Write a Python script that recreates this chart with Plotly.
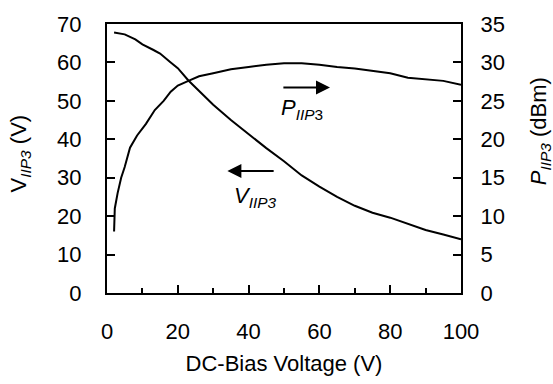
import plotly.graph_objects as go

# V_IIP3 (left axis, V)
v_x = [2, 3, 4, 5, 8, 10, 13, 15, 18, 20, 23, 26, 30, 35, 40, 45, 50, 55, 60, 65, 70, 75, 80, 85, 90, 95, 100]
v_y = [67.8, 67.6, 67.5, 67.3, 66.0, 64.7, 63.3, 62.3, 60.0, 58.5, 55.3, 52.5, 49.0, 45.0, 41.3, 37.7, 34.3, 30.6, 27.7, 25.0, 22.7, 20.9, 19.6, 18.0, 16.4, 15.2, 14.0]

# P_IIP3 (right axis, dBm)
p_x = [2, 2.2, 3, 4, 5, 6.5, 8.5, 11, 13.5, 16, 18, 20, 23, 26, 30, 35, 40, 45, 50, 55, 60, 65, 70, 75, 80, 85, 90, 95, 100]
p_y = [8.0, 11.0, 13.0, 15.0, 16.4, 18.9, 20.5, 22.0, 23.8, 25.0, 26.2, 27.0, 27.6, 28.2, 28.6, 29.1, 29.4, 29.7, 29.9, 29.9, 29.7, 29.4, 29.2, 28.9, 28.6, 28.0, 27.8, 27.6, 27.1]

x_ticks = [0, 20, 40, 60, 80, 100]
left_ticks = [0, 10, 20, 30, 40, 50, 60, 70]
right_ticks = [0, 5, 10, 15, 20, 25, 30, 35]

FONT = "Liberation Sans, Arial, sans-serif"
FS = 22

fig = go.Figure()
fig.add_trace(go.Scatter(x=v_x, y=v_y, mode="lines", line=dict(color="black", width=2),
                         showlegend=False, yaxis="y"))
fig.add_trace(go.Scatter(x=p_x, y=p_y, mode="lines", line=dict(color="black", width=2),
                         showlegend=False, yaxis="y2"))

fig.update_layout(
    width=553, height=384,
    margin=dict(l=107, r=92, t=14, b=90),
    paper_bgcolor="white", plot_bgcolor="white",
    font=dict(family=FONT, size=FS, color="black"),
    xaxis=dict(range=[0, 100], tickvals=x_ticks, ticks="inside", ticklen=8, tickwidth=1.5,
               tickcolor="black", showline=True, linecolor="black", linewidth=2, mirror=True,
               showgrid=False, zeroline=False, ticklabelstandoff=18,
               minor=dict(tickvals=[10, 30, 50, 70, 90], ticks="inside", ticklen=5, tickwidth=1.5, tickcolor="black"),
               title=dict(text="DC-Bias Voltage (V)", font=dict(size=FS), standoff=12)),
    yaxis=dict(range=[0, 70], tickvals=left_ticks, ticks="inside", ticklen=8, tickwidth=1.5,
               tickcolor="black", showline=True, linecolor="black", linewidth=2,
               showgrid=False, zeroline=False, ticklabelstandoff=19),
    yaxis2=dict(range=[0, 35], tickvals=right_ticks, ticks="inside", ticklen=8, tickwidth=1.5,
                tickcolor="black", showline=True, linecolor="black", linewidth=2,
                showgrid=False, zeroline=False, overlaying="y", side="right", ticklabelstandoff=13),
)

annotations = [
    # axis titles
    dict(text="V<sub><i>IIP3</i></sub> (V)", xref="paper", yref="paper", x=-0.245, y=0.52,
         textangle=-90, showarrow=False, font=dict(size=FS), xanchor="center", yanchor="middle"),
    dict(text="<i>P<sub>IIP3</sub></i> (dBm)", xref="paper", yref="paper", x=1.222, y=0.60,
         textangle=-90, showarrow=False, font=dict(size=FS), xanchor="center", yanchor="middle"),
    # P arrow
    dict(x=63, y=26.75, xref="x", yref="y2", ax=49.4, ay=26.75, axref="x", ayref="y2",
         showarrow=True, arrowhead=2, arrowsize=1.4, arrowwidth=2, arrowcolor="black", text=""),
    dict(text="<i>P<sub>IIP</sub></i><sub>3</sub>", x=55, y=24.0, xref="x", yref="y2",
         showarrow=False, font=dict(size=FS)),
    # V arrow
    dict(x=34, y=31.75, xref="x", yref="y", ax=47.5, ay=31.75, axref="x", ayref="y",
         showarrow=True, arrowhead=2, arrowsize=1.4, arrowwidth=2, arrowcolor="black", text=""),
    dict(text="<i>V<sub>IIP3</sub></i>", x=42, y=25.0, xref="x", yref="y",
         showarrow=False, font=dict(size=FS)),
]
fig.update_layout(annotations=annotations)

fig.write_html("out.html")
